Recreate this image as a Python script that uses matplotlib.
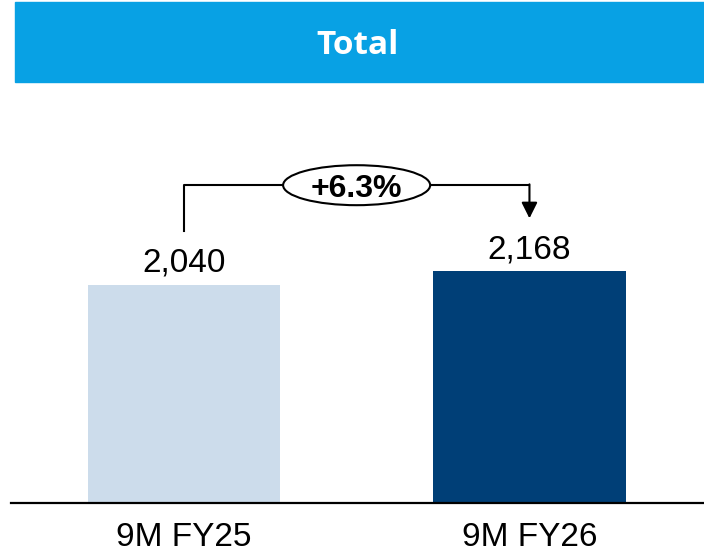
import matplotlib.pyplot as plt
from matplotlib.patches import Rectangle, Ellipse

categories = ["9M FY25", "9M FY26"]
values = [2040, 2168]
value_labels = ["2,040", "2,168"]
change_label = "+6.3%"
title = "Total"

bar_colors = ["#CCDCEB", "#003F77"]
band_color = "#08A1E4"

fig = plt.figure(figsize=(7.04, 5.56), dpi=100)

# title band across the top
fig.patches.append(Rectangle((15 / 704, 474 / 556), 689 / 704, 80 / 556,
                             transform=fig.transFigure, color=band_color, zorder=0))
fig.text(358 / 704, 511 / 556, title, color="white", fontsize=24, fontweight="bold",
         family="Open Sans", ha="center", va="center")

ax = fig.add_axes([11 / 704, 53 / 556, 693 / 704, 403 / 556])
x = list(range(len(categories)))
ax.bar(x, values, width=0.556, color=bar_colors)
ax.set_xlim(-0.5, 1.505)
ax.set_ylim(0, 3770)

for xi, v, lab in zip(x, values, value_labels):
    ax.annotate(lab, (xi, v), xytext=(0, 9.5), textcoords="offset points",
                ha="center", va="baseline", fontsize=24, family="Liberation Sans")

# growth bracket
level = values[1] + 805
left_bottom = values[0] + 505
arrow_tip = values[1] + 495
mid = (x[0] + x[1]) / 2
ell_w, ell_h = 0.4255, 374
ax.plot([x[0], x[0], mid - ell_w / 2], [left_bottom, level, level], color="black", lw=1.5)
ax.plot([mid + ell_w / 2, x[1]], [level, level], color="black", lw=1.5)
ax.annotate("", xy=(x[1], arrow_tip), xytext=(x[1], level + 8),
            arrowprops=dict(arrowstyle="-|>,head_length=0.48,head_width=0.24",
                            color="black", lw=1.5, mutation_scale=20,
                            shrinkA=0, shrinkB=0))
ax.add_patch(Ellipse((mid, level), ell_w, ell_h, facecolor="white",
                     edgecolor="black", lw=1.5, zorder=3))
ax.text(mid, level, change_label, ha="center", va="center_baseline", fontsize=23,
        fontweight="bold", family="Liberation Sans", zorder=4)

ax.set_xticks(x)
ax.set_xticklabels(categories, fontsize=24, family="Liberation Sans")
ax.tick_params(axis="x", length=0, pad=14)
ax.set_yticks([])
for s in ["top", "left", "right"]:
    ax.spines[s].set_visible(False)
ax.spines["bottom"].set_linewidth(1.6)
ax.spines["bottom"].set_color("black")
ax.patch.set_alpha(0)

fig.savefig("out.png", dpi=100)
